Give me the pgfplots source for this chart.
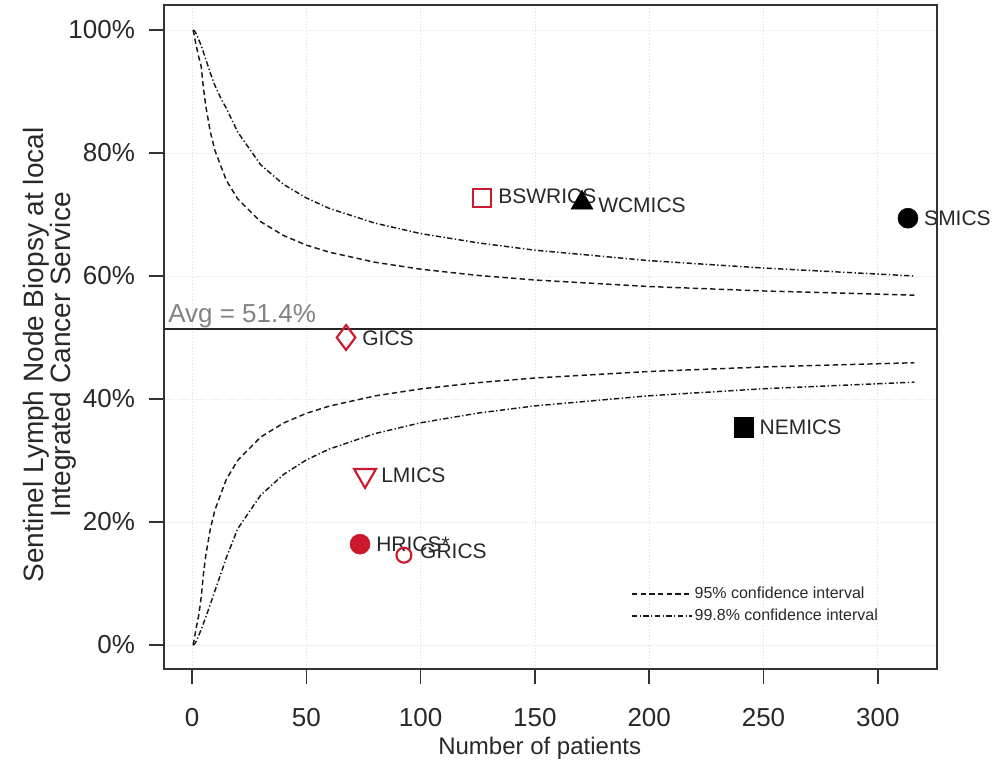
\documentclass[border=0pt]{standalone}
\usepackage{pgfplots}
\pgfplotsset{compat=1.18}
\usepackage{fontspec}
\setmainfont{Liberation Sans}
\definecolor{ptred}{RGB}{205,25,45}
\definecolor{txt}{RGB}{40,40,40}
\definecolor{avgc}{RGB}{130,130,130}

\begin{document}
\begin{tikzpicture}[x=1pt,y=1pt]
\useasboundingbox (0,0) rectangle (752.25,572.25);
\begin{axis}[
  scale only axis, width=579.75pt, height=498pt,
  anchor=south west, at={(123pt,70.5pt)},
  xmin=-12.25, xmax=325.9, ymin=-3.9, ymax=104.07,
  clip=false,
  xtick={0,50,100,150,200,250,300},
  xticklabels={0,50,100,150,200,250,300},
  ytick={0,20,40,60,80,100},
  yticklabels={0\%,20\%,40\%,60\%,80\%,100\%},
  tick pos=left, tick align=outside, major tick length=11pt,
  tick style={black!80, line width=1.1pt},
  axis line style={black!80, line width=1.1pt},
  grid=major,
  major grid style={black!10, line width=0.6pt, dash pattern=on 1.2pt off 1.2pt},
  ticklabel style={font=\fontsize{19.5}{22}\selectfont, text=txt},
  yticklabel style={xshift=-7.25pt},
  xticklabel style={yshift=-15pt},
  xlabel={Number of patients},
  xlabel style={font=\fontsize{18}{20}\selectfont, text=txt, at={(axis description cs:0.486,-0.1295)}, anchor=base},
  ylabel={Sentinel Lymph Node Biopsy at local\\Integrated Cancer Service},
  ylabel style={font=\fontsize{21}{20.5}\selectfont, text=txt, align=center, at={(axis description cs:-0.1480,0.473)}, anchor=center},
  legend style={draw=none, fill=none, at={(axis description cs:0.604,0.0964)}, anchor=west,
    font=\fontsize{12}{13.5}\selectfont, text=txt, row sep=3.5pt, inner sep=0pt,
    nodes={inner sep=1.5pt}},
  legend cell align=left,
  legend image code/.code={\draw[#1] (0pt,0pt) -- (45pt,0pt);},
]
% 95% upper
\addplot[black!90, line width=1.1pt, dash pattern=on 4pt off 2.5pt] coordinates {
(0.5,100) (1,99.08) (2,97.21) (3,95.53) (4,94.13) (5,90.57) (6,87.69) (8,83.46) (10,80.45)
(15,75.57) (20,72.54) (30,68.84) (40,66.59) (50,65.03) (60,63.88) (80,62.24) (100,61.11)
(125,60.10) (150,59.35) (200,58.29) (250,57.57) (316,56.89)};
\addlegendentry{95\% confidence interval}
% 99.8% upper
\addplot[black!90, line width=1.1pt, dash pattern=on 4pt off 1.8pt on 1pt off 1.8pt] coordinates {
(0.5,100) (1,99.9) (2,99.3) (4,97.5) (6,95.3) (8,93.0) (10,91.0) (13,88.6) (15,87.3)
(20,83.4) (30,78.1) (40,74.9) (50,72.7) (60,71.0) (80,68.6) (100,66.9) (125,65.4)
(150,64.2) (200,62.5) (250,61.3) (316,60.0)};
\addlegendentry{99.8\% confidence interval}
% 95% lower
\addplot[black!90, line width=1.1pt, dash pattern=on 4pt off 2.5pt, forget plot] coordinates {
(0.5,0) (1,1.03) (2,3.10) (3,4.95) (4,7.69) (5,11.54) (6,14.50) (8,18.84) (10,21.93)
(15,26.94) (20,30.03) (30,33.80) (40,36.09) (50,37.67) (60,38.84) (80,40.50) (100,41.64)
(125,42.66) (150,43.42) (200,44.48) (250,45.21) (316,45.90)};
% 99.8% lower
\addplot[black!90, line width=1.1pt, dash pattern=on 4pt off 1.8pt on 1pt off 1.8pt, forget plot] coordinates {
(0.5,0) (1,0.1) (2,0.7) (4,2.5) (6,4.5) (8,6.6) (10,8.8) (13,12.0) (15,14.2)
(20,18.9) (30,24.35) (40,27.72) (50,30.09) (60,31.86) (80,34.38) (100,36.13) (125,37.71)
(150,38.88) (200,40.53) (250,41.67) (316,42.74)};
% average line
\addplot[black!85, line width=1.1pt, forget plot] coordinates {(-12.25,51.4) (325.9,51.4)};
\node[anchor=base west, inner sep=0pt, text=avgc, font=\fontsize{19.5}{22}\selectfont] at (axis cs:-10.5,52.4) {Avg = 51.4\%};
% points
\addplot[only marks, mark=*, mark size=7.5pt, black, forget plot] coordinates {(313.2,69.4)};
\addplot[only marks, mark=triangle*, mark size=9.5pt, black, forget plot] coordinates {(170.6,71.9)};
\addplot[only marks, mark=square, mark size=6.8pt, ptred, line width=1.6pt, forget plot] coordinates {(126.9,72.7)};
\addplot[only marks, mark=diamond, mark size=9.3pt, ptred, line width=1.6pt, forget plot] coordinates {(67.4,50.0)};
\addplot[only marks, mark=square*, mark size=7.2pt, black, forget plot] coordinates {(241.2,35.4)};
\addplot[only marks, mark=triangle, mark size=9.5pt, ptred, line width=1.6pt, mark options={rotate=180}, forget plot] coordinates {(75.7,27.6)};
\addplot[only marks, mark=*, mark size=7.5pt, ptred, forget plot] coordinates {(73.5,16.4)};
\addplot[only marks, mark=o, mark size=5.6pt, ptred, line width=1.6pt, forget plot] coordinates {(92.7,14.6)};
% labels
\begin{scope}[every node/.style={anchor=west, inner sep=0pt, text=txt, font=\fontsize{15.75}{18}\selectfont, xshift=12pt}]
\node at (axis cs:313.2,69.4) {SMICS};
\node at (axis cs:170.6,71.5) {WCMICS};
\node at (axis cs:126.9,72.9) {BSWRICS};
\node at (axis cs:67.4,49.9) {GICS};
\node at (axis cs:241.2,35.4) {NEMICS};
\node at (axis cs:75.7,27.6) {LMICS};
\node at (axis cs:73.5,16.4) {HRICS*};
\node at (axis cs:92.7,15.2) {GRICS};
\end{scope}
\end{axis}
\end{tikzpicture}
\end{document}
